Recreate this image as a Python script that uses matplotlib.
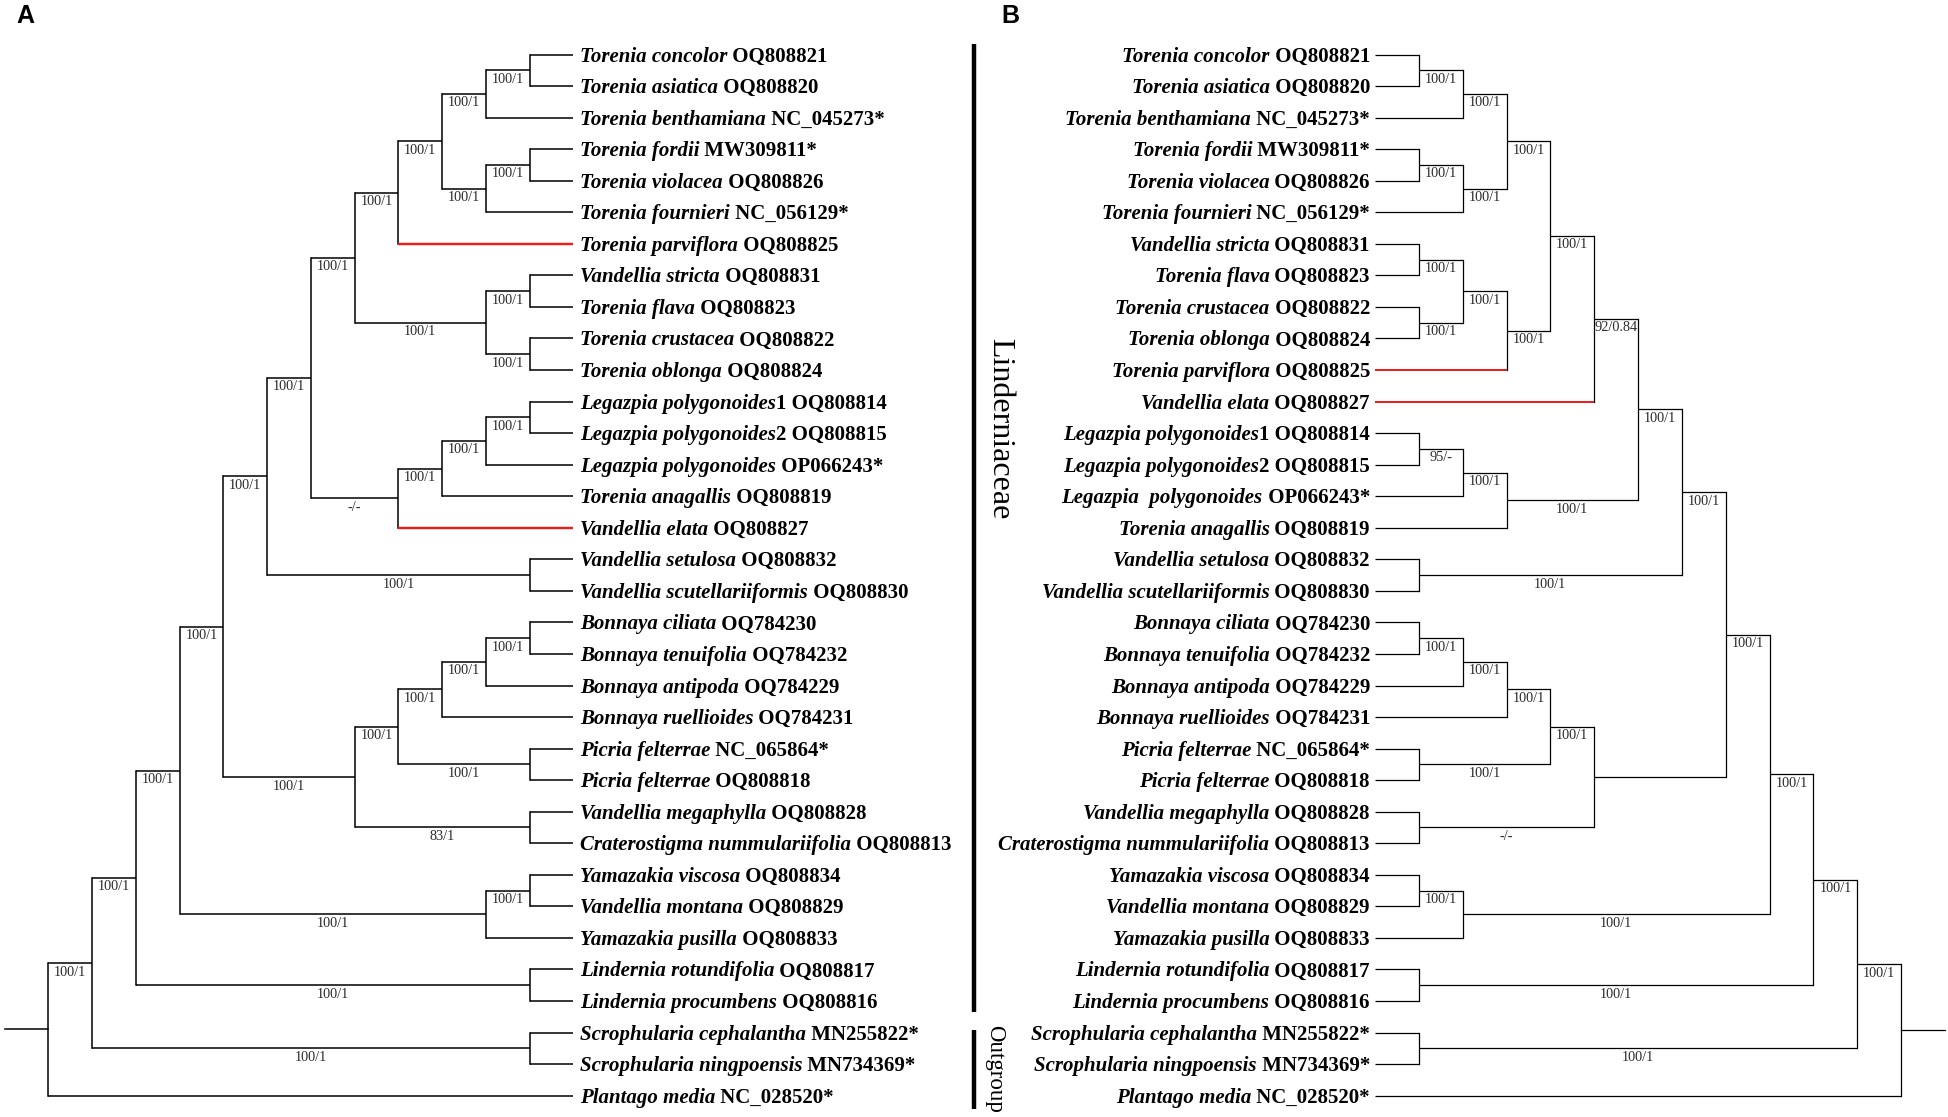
import matplotlib.pyplot as plt

# taxa: code, species (italic), tag (upright, after species), accession
codes = ['Tcon', 'Tasi', 'Tben', 'Tfor', 'Tvio', 'Tfou', 'Tpar', 'Vstr', 'Tfla',
         'Tcru', 'Tobl', 'Lpo1', 'Lpo2', 'Lpo3', 'Tana', 'Vela', 'Vset', 'Vscu',
         'Bcil', 'Bten', 'Bant', 'Brue', 'Pfe1', 'Pfe2', 'Vmeg', 'Cnum', 'Yvis',
         'Vmon', 'Ypus', 'Lrot', 'Lpro', 'Scep', 'Snin', 'Pmed']
species = ['Torenia concolor', 'Torenia asiatica', 'Torenia benthamiana',
           'Torenia fordii', 'Torenia violacea', 'Torenia fournieri',
           'Torenia parviflora', 'Vandellia stricta', 'Torenia flava',
           'Torenia crustacea', 'Torenia oblonga', 'Legazpia polygonoides',
           'Legazpia polygonoides', 'Legazpia polygonoides', 'Torenia anagallis',
           'Vandellia elata', 'Vandellia setulosa', 'Vandellia scutellariiformis',
           'Bonnaya ciliata', 'Bonnaya tenuifolia', 'Bonnaya antipoda',
           'Bonnaya ruellioides', 'Picria felterrae', 'Picria felterrae',
           'Vandellia megaphylla', 'Craterostigma nummulariifolia',
           'Yamazakia viscosa', 'Vandellia montana', 'Yamazakia pusilla',
           'Lindernia rotundifolia', 'Lindernia procumbens',
           'Scrophularia cephalantha', 'Scrophularia ningpoensis', 'Plantago media']
tags = ['', '', '', '', '', '', '', '', '', '', '', '1', '2', '', '', '', '', '',
        '', '', '', '', '', '', '', '', '', '', '', '', '', '', '', '']
accessions = ['OQ808821', 'OQ808820', 'NC_045273*', 'MW309811*', 'OQ808826',
              'NC_056129*', 'OQ808825', 'OQ808831', 'OQ808823', 'OQ808822',
              'OQ808824', 'OQ808814', 'OQ808815', 'OP066243*', 'OQ808819',
              'OQ808827', 'OQ808832', 'OQ808830', 'OQ784230', 'OQ784232',
              'OQ784229', 'OQ784231', 'NC_065864*', 'OQ808818', 'OQ808828',
              'OQ808813', 'OQ808834', 'OQ808829', 'OQ808833', 'OQ808817',
              'OQ808816', 'MN255822*', 'MN734369*', 'NC_028520*']

# trees with support values (ML bootstrap / posterior probability)
tree_A = ("((((((((((((Tcon,Tasi)100/1,Tben)100/1,((Tfor,Tvio)100/1,Tfou)100/1)100/1,"
          "Tpar)100/1,((Vstr,Tfla)100/1,(Tcru,Tobl)100/1)100/1)100/1,"
          "((((Lpo1,Lpo2)100/1,Lpo3)100/1,Tana)100/1,Vela)-/-)100/1,"
          "(Vset,Vscu)100/1)100/1,"
          "(((((Bcil,Bten)100/1,Bant)100/1,Brue)100/1,(Pfe1,Pfe2)100/1)100/1,"
          "(Vmeg,Cnum)83/1)100/1)100/1,"
          "((Yvis,Vmon)100/1,Ypus)100/1)100/1,"
          "(Lrot,Lpro)100/1)100/1,"
          "(Scep,Snin)100/1)100/1,"
          "Pmed);")
tree_B = ("((((((((((((Tcon,Tasi)100/1,Tben)100/1,((Tfor,Tvio)100/1,Tfou)100/1)100/1,"
          "(((Vstr,Tfla)100/1,(Tcru,Tobl)100/1)100/1,Tpar)100/1)100/1,"
          "Vela)92/0.84,"
          "(((Lpo1,Lpo2)95/-,Lpo3)100/1,Tana)100/1)100/1,"
          "(Vset,Vscu)100/1)100/1,"
          "(((((Bcil,Bten)100/1,Bant)100/1,Brue)100/1,(Pfe1,Pfe2)100/1)100/1,"
          "(Vmeg,Cnum)-/-))100/1,"
          "((Yvis,Vmon)100/1,Ypus)100/1)100/1,"
          "(Lrot,Lpro)100/1)100/1,"
          "(Scep,Snin)100/1)100/1,"
          "Pmed);")
red_tips = ['Tpar', 'Vela']
species_B = {'Lpo3': 'Legazpia  polygonoides'}

plt.rcParams['font.family'] = ['Liberation Serif', 'DejaVu Serif']

W, H = 1949, 1117
fig = plt.figure(figsize=(W / 100, H / 100), dpi=100)
ax = fig.add_axes([0, 0, 1, 1])
ax.set_xlim(0, W)
ax.set_ylim(H, 0)
ax.axis('off')
fig.canvas.draw()
renderer = fig.canvas.get_renderer()

Y0, DY = 54.5, 31.55
TIP_FS, SUP_FS = 15, 10.3


def parse(s):
    pos = 0

    def read():
        nonlocal pos
        start = pos
        while s[pos] not in ',();':
            pos += 1
        return s[start:pos]

    def node():
        nonlocal pos
        if s[pos] == '(':
            pos += 1
            kids = [node()]
            while s[pos] == ',':
                pos += 1
                kids.append(node())
            pos += 1
            return {'kids': kids, 'label': read()}
        return {'name': read()}

    return node()


def layout(nd, order):
    if 'name' in nd:
        nd['h'] = 0
        nd['y'] = Y0 + DY * len(order)
        order.append(nd['name'])
        return
    for k in nd['kids']:
        layout(k, order)
    nd['h'] = max(k['h'] for k in nd['kids']) + 1
    nd['y'] = (nd['kids'][0]['y'] + nd['kids'][-1]['y']) / 2


def width_of(t):
    bb = t.get_window_extent(renderer)
    inv = ax.transData.inverted()
    return inv.transform((bb.x1, 0))[0] - inv.transform((bb.x0, 0))[0]


def draw_tree(newick, x_tip, step, sign, stub_end, lw, right_labels):
    root = parse(newick)
    order = []
    layout(root, order)

    def xpos(nd):
        return x_tip + sign * step * nd['h']

    def walk(nd, parent_x):
        x = xpos(nd)
        if 'kids' in nd:
            ax.plot([x, x], [nd['kids'][0]['y'], nd['kids'][-1]['y']],
                    color='black', lw=lw, solid_capstyle='projecting')
            for k in nd['kids']:
                walk(k, x)
            if parent_x is not None and nd['label']:
                ax.text((x + parent_x) / 2, nd['y'] + 2.5, nd['label'],
                        ha='center', va='top', fontsize=SUP_FS, color='#2a2a2a')
        if parent_x is not None:
            red = nd.get('name') in red_tips
            ax.plot([x, parent_x], [nd['y'], nd['y']],
                    color='#e8211c' if red else 'black',
                    lw=lw * 1.6 if red else lw, solid_capstyle='butt',
                    zorder=3 if red else 2)

    walk(root, None)
    rx = xpos(root)
    ax.plot([rx, stub_end], [root['y'], root['y']], color='black', lw=lw)

    # tip labels: italic bold species + bold accession
    for i, code in enumerate(order):
        j = codes.index(code)
        sp = species[j]
        if right_labels:
            sp = species_B.get(code, sp)
        up = tags[j] + ' ' + accessions[j]
        yb = Y0 + DY * i + 7
        gap = 0 if tags[j] else 0
        if not right_labels:
            x0 = x_tip + 6.5
            t = ax.text(x0, yb, sp, ha='left', va='baseline', fontsize=TIP_FS,
                        fontweight='bold', fontstyle='italic')
            w = width_of(t)
            ax.text(x0 + w + gap, yb, up, ha='left', va='baseline',
                    fontsize=TIP_FS, fontweight='bold')
        else:
            x1 = x_tip - 5
            t = ax.text(x1, yb, up, ha='right', va='baseline', fontsize=TIP_FS,
                        fontweight='bold')
            w = width_of(t)
            ax.text(x1 - w - gap, yb, sp, ha='right', va='baseline',
                    fontsize=TIP_FS, fontweight='bold', fontstyle='italic')


draw_tree(tree_A, 573.5, 43.75, -1, 5, 1.1, False)
draw_tree(tree_B, 1375, 43.85, 1, 1945, 0.9, True)

# group bars
ax.plot([974.5, 974.5], [44, 1012], color='black', lw=3.2, solid_capstyle='butt')
ax.plot([974.5, 974.5], [1030, 1109], color='black', lw=3.2, solid_capstyle='butt')
ax.text(1000, 429, 'Linderniaceae', rotation=-90, ha='center', va='center',
        fontsize=23)
ax.text(995, 1069, 'Outgroup', rotation=-90, ha='center', va='center',
        fontsize=16.5)

# panel letters
ax.text(16, 23, 'A', ha='left', va='baseline', fontsize=18, fontweight='bold',
        family=['Liberation Sans', 'DejaVu Sans'])
ax.text(1001, 23, 'B', ha='left', va='baseline', fontsize=18, fontweight='bold',
        family=['Liberation Sans', 'DejaVu Sans'])

fig.savefig('out.png', dpi=100)
